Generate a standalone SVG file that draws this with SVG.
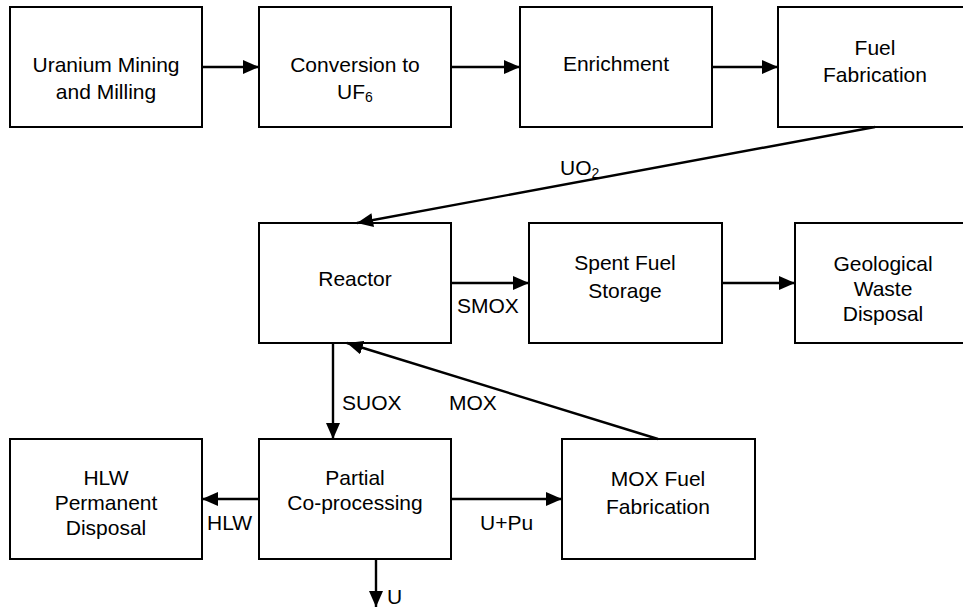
<svg xmlns="http://www.w3.org/2000/svg" width="963" height="608" viewBox="0 0 963 608">
<style>
.box{fill:#fff;stroke:#000;stroke-width:2}
.t{font-family:"Liberation Sans",Arial,sans-serif;font-size:21px;fill:#000;text-anchor:middle}
.l{font-family:"Liberation Sans",Arial,sans-serif;font-size:21px;fill:#000}
.c{stroke:#000;stroke-width:2.4;fill:none;marker-end:url(#ah)}
</style>
<defs>
<marker id="ah" markerUnits="userSpaceOnUse" markerWidth="16" markerHeight="14" refX="16" refY="7" orient="auto">
<path d="M0,0 L16,7 L0,14 z" fill="#000"/>
</marker>
</defs>
<rect width="963" height="608" fill="#fff"/>
<g id="mining"><rect class="box" x="10" y="7" width="192" height="120"/><text class="t" x="106" y="72">Uranium Mining</text><text class="t" x="106" y="99">and Milling</text></g>
<g id="conversion"><rect class="box" x="259" y="7" width="192" height="120"/><text class="t" x="355" y="72">Conversion to</text><text class="t" x="355" y="99">UF<tspan font-size="14" dy="3">6</tspan></text></g>
<g id="enrichment"><rect class="box" x="520" y="7" width="192" height="120"/><text class="t" x="616" y="71">Enrichment</text></g>
<g id="fuelfab"><rect class="box" x="778" y="7" width="194" height="120"/><text class="t" x="875" y="55">Fuel</text><text class="t" x="875" y="82">Fabrication</text></g>
<g id="reactor"><rect class="box" x="259" y="223" width="192" height="120"/><text class="t" x="355" y="286">Reactor</text></g>
<g id="spent"><rect class="box" x="529" y="223" width="193" height="120"/><text class="t" x="625" y="270">Spent Fuel</text><text class="t" x="625" y="298">Storage</text></g>
<g id="geological"><rect class="box" x="795" y="223" width="176" height="120"/><text class="t" x="883" y="271">Geological</text><text class="t" x="883" y="296">Waste</text><text class="t" x="883" y="321">Disposal</text></g>
<g id="hlw"><rect class="box" x="10" y="439" width="192" height="120"/><text class="t" x="106" y="485">HLW</text><text class="t" x="106" y="510">Permanent</text><text class="t" x="106" y="535">Disposal</text></g>
<g id="partial"><rect class="box" x="259" y="439" width="192" height="120"/><text class="t" x="355" y="485">Partial</text><text class="t" x="355" y="510">Co-processing</text></g>
<g id="moxfab"><rect class="box" x="562" y="439" width="193" height="120"/><text class="t" x="658" y="486">MOX Fuel</text><text class="t" x="658" y="514">Fabrication</text></g>
<g id="connectors">
<line class="c" x1="202" y1="67" x2="259" y2="67"/>
<line class="c" x1="451" y1="67" x2="520" y2="67"/>
<line class="c" x1="712" y1="67" x2="778" y2="67"/>
<line class="c" x1="875" y1="127" x2="357" y2="223"/>
<line class="c" x1="451" y1="283" x2="529" y2="283"/>
<line class="c" x1="722" y1="283" x2="795" y2="283"/>
<line class="c" x1="333" y1="343" x2="333" y2="439"/>
<line class="c" x1="658" y1="439" x2="347" y2="343"/>
<line class="c" x1="259" y1="499" x2="202" y2="499"/>
<line class="c" x1="451" y1="499" x2="562" y2="499"/>
<line class="c" x1="376" y1="559" x2="376" y2="607"/>
<text class="l" x="560" y="175">UO<tspan font-size="14" dy="3">2</tspan></text>
<text class="l" x="457" y="313">SMOX</text>
<text class="l" x="342" y="410">SUOX</text>
<text class="l" x="449" y="410">MOX</text>
<text class="l" x="207" y="530">HLW</text>
<text class="l" x="480" y="530">U+Pu</text>
<text class="l" x="387" y="604">U</text>
</g>
</svg>
